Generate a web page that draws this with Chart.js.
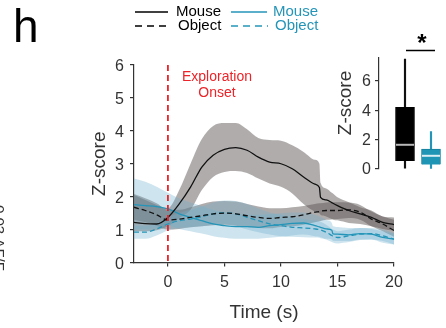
<!DOCTYPE html>
<html><head><meta charset="utf-8">
<script src="https://cdn.jsdelivr.net/npm/chart.js@4/dist/chart.umd.min.js"></script>
<style>
html,body{margin:0;padding:0;background:#fff;}
#wrap{position:relative;width:446px;height:328px;overflow:hidden;background:#fff;}
canvas{position:absolute;left:0;top:0;}
</style></head><body>
<div id="wrap"><canvas id="main" width="446" height="328"></canvas><canvas id="inset" width="446" height="328"></canvas></div>
<script>
// ---------- data ----------
const time = [-3,-2,-1,0,1,2,3,4,5,6,7,8,9,10,11,12,13,13.4,13.5,14,14.5,14.6,15,16,17,18,19,20];

const blackMouseMean  = [1.22,1.18,1.17,1.37,1.78,2.29,2.90,3.26,3.44,3.49,3.41,3.20,3.05,3.00,2.85,2.60,2.38,2.28,1.98,1.90,1.82,1.80,1.73,1.58,1.48,1.37,1.22,1.15];
const blackMouseUpper = [2.05,1.90,1.75,1.65,2.20,3.00,3.75,4.15,4.24,4.24,4.05,3.78,3.72,3.70,3.56,3.36,3.12,3.00,2.42,2.25,2.12,2.10,1.98,1.83,1.68,1.58,1.40,1.37];
const blackMouseLower = [0.95,0.95,0.98,1.10,1.35,1.60,2.20,2.60,2.75,2.78,2.72,2.55,2.40,2.30,2.10,1.78,1.55,1.50,1.45,1.40,1.32,1.30,1.28,1.20,1.17,1.10,1.02,0.97];

const blackObjectMean  = [1.68,1.58,1.45,1.29,1.32,1.37,1.42,1.48,1.50,1.48,1.42,1.37,1.34,1.37,1.39,1.45,1.53,1.55,1.56,1.58,1.58,1.58,1.58,1.60,1.53,1.32,1.17,0.97];
const blackObjectUpper = [2.08,1.95,1.80,1.60,1.60,1.68,1.78,1.85,1.87,1.85,1.78,1.70,1.65,1.65,1.68,1.72,1.78,1.80,1.80,1.82,1.83,1.83,1.83,1.82,1.75,1.55,1.40,1.30];
const blackObjectLower = [1.30,1.22,1.12,1.00,1.02,1.07,1.10,1.13,1.15,1.12,1.08,1.05,1.04,1.08,1.10,1.15,1.22,1.25,1.26,1.30,1.31,1.32,1.32,1.35,1.30,1.10,0.95,0.78];

const blueMouseMean  = [1.76,1.73,1.70,1.63,1.48,1.37,1.27,1.17,1.12,1.09,1.09,1.07,1.12,1.15,1.19,1.20,1.12,1.08,1.07,1.02,0.98,0.87,0.86,0.84,0.88,0.86,0.76,0.71];
const blueMouseUpper = [2.55,2.45,2.30,2.12,1.95,1.82,1.72,1.60,1.52,1.48,1.46,1.45,1.47,1.50,1.52,1.52,1.45,1.40,1.38,1.30,1.20,1.10,1.08,1.05,1.05,1.02,0.95,0.88];
const blueMouseLower = [1.00,1.00,1.05,1.12,1.02,0.95,0.88,0.80,0.75,0.72,0.72,0.72,0.75,0.78,0.82,0.85,0.80,0.78,0.77,0.72,0.70,0.66,0.65,0.65,0.70,0.70,0.60,0.55];

const blueObjectMean  = [0.92,0.92,1.02,1.17,1.27,1.32,1.39,1.48,1.51,1.48,1.37,1.27,1.17,1.12,1.07,1.05,1.02,1.00,0.99,0.92,0.82,0.80,0.76,0.81,0.86,0.88,0.81,0.71];
const blueObjectUpper = [1.12,1.12,1.20,1.38,1.50,1.60,1.70,1.82,1.88,1.87,1.78,1.65,1.52,1.45,1.38,1.32,1.28,1.25,1.24,1.15,1.02,1.00,0.95,1.00,1.05,1.05,1.00,0.90];
const blueObjectLower = [0.72,0.72,0.82,0.97,1.05,1.07,1.10,1.15,1.17,1.12,1.00,0.92,0.85,0.80,0.78,0.77,0.76,0.75,0.74,0.70,0.62,0.61,0.58,0.62,0.68,0.70,0.65,0.55];

const xTicks = [0,5,10,15,20];
const yTicks = [0,1,2,3,4,5,6];

// inset box plot
const boxGroups   = [1,2];
const whiskerLow  = [0.05,0.0];
const boxQ1       = [0.55,0.30];
const boxMedian   = [1.65,0.90];
const boxQ3       = [4.20,1.35];
const whiskerHigh = [7.50,2.55];
const insetTicks  = [0,2,4,6];

// ---------- styles ----------
const FONT = "'Liberation Sans', Arial, Helvetica, sans-serif";
const AX = '#333333';
const BLUE = '#2495b8';
const GRAY_BAND = 'rgba(90,82,82,0.48)';
const BLUE_BAND = 'rgba(110,175,205,0.34)';

const pts = arr => time.map((t,i)=>({x:t,y:arr[i]}));
function band(upper, lower, color, order){
  return [
    {data:pts(upper), borderWidth:0, pointRadius:0, fill:false, order, cubicInterpolationMode:'monotone'},
    {data:pts(lower), borderWidth:0, pointRadius:0, fill:'-1', backgroundColor:color, order, cubicInterpolationMode:'monotone'}
  ];
}
function line(arr, color, dash){
  return {data:pts(arr), borderColor:color, borderWidth:1.3, borderDash:dash, pointRadius:0, fill:false, order:0, cubicInterpolationMode:'monotone'};
}

const decor = {
  id:'decor',
  afterDatasetsDraw(chart){
    const ctx = chart.ctx, x = chart.scales.x;
    ctx.save();
    // onset line
    const x0 = x.getPixelForValue(0);
    ctx.strokeStyle = '#ec2328'; ctx.lineWidth = 1.8; ctx.setLineDash([6,4]);
    ctx.beginPath(); ctx.moveTo(x0, chart.chartArea.top); ctx.lineTo(x0, chart.chartArea.bottom); ctx.stroke();
    ctx.setLineDash([]);
    ctx.fillStyle = '#ec2328'; ctx.font = '14px ' + FONT; ctx.textAlign = 'center'; ctx.textBaseline = 'middle';
    ctx.fillText('Exploration', 217, 77);
    ctx.fillText('Onset', 217, 93);
    // panel letter
    ctx.fillStyle = '#000'; ctx.font = '46px ' + FONT; ctx.textAlign = 'left'; ctx.textBaseline = 'alphabetic';
    ctx.fillText('h', 13, 42);
    // legend
    ctx.lineWidth = 1.6;
    const leg = [
      {x1:135,x2:168,y:12,c:'#000',d:[],t:'Mouse',tx:176},
      {x1:135,x2:170,y:26,c:'#000',d:[7,5],t:'Object',tx:178},
      {x1:231,x2:267,y:12,c:BLUE,d:[],t:'Mouse',tx:273},
      {x1:231,x2:268,y:26,c:BLUE,d:[7,5],t:'Object',tx:275}
    ];
    ctx.font = '15px ' + FONT; ctx.textBaseline = 'middle';
    leg.forEach(l=>{
      ctx.strokeStyle = l.c; ctx.setLineDash(l.d);
      ctx.beginPath(); ctx.moveTo(l.x1,l.y); ctx.lineTo(l.x2,l.y); ctx.stroke();
      ctx.fillStyle = l.c; ctx.fillText(l.t, l.tx, l.y);
    });
    ctx.setLineDash([]);
    // clipped side label
    ctx.translate(-6, 205); ctx.rotate(Math.PI/2);
    ctx.fillStyle = AX; ctx.font = '15px ' + FONT; ctx.textAlign='left'; ctx.textBaseline='alphabetic';
    ctx.fillText('0.03 ΔF/F', 0, 0);
    ctx.restore();
  }
};

new Chart(document.getElementById('main'), {
  type:'line',
  data:{datasets:[
    ...band(blackMouseUpper, blackMouseLower, GRAY_BAND, 3),
    ...band(blackObjectUpper, blackObjectLower, GRAY_BAND, 3),
    ...band(blueMouseUpper, blueMouseLower, BLUE_BAND, 2),
    ...band(blueObjectUpper, blueObjectLower, BLUE_BAND, 2),
    line(blackMouseMean, '#111', []),
    line(blackObjectMean, '#111', [5,3]),
    line(blueMouseMean, BLUE, []),
    line(blueObjectMean, BLUE, [5,3])
  ]},
  options:{
    responsive:false, animation:false, devicePixelRatio:1,
    layout:{padding:{left:0,top:65,right:52,bottom:0}},
    plugins:{legend:{display:false}, tooltip:{enabled:false}},
    scales:{
      x:{type:'linear', min:-3, max:20,
        afterBuildTicks:s=>{s.ticks = xTicks.map(v=>({value:v}));},
        afterFit:s=>{s.height = 65.5;},
        grid:{drawOnChartArea:false, drawTicks:true, tickLength:4, color:AX, lineWidth:1.2},
        border:{display:true, color:AX, width:1.2},
        ticks:{color:AX, font:{family:FONT, size:16}, padding:6, maxRotation:0, autoSkip:false},
        title:{display:true, text:'Time (s)', color:AX, font:{family:FONT, size:19}, padding:{top:0,bottom:4}}
      },
      y:{type:'linear', min:0, max:6,
        afterBuildTicks:s=>{s.ticks = yTicks.map(v=>({value:v}));},
        afterFit:s=>{s.width = 134;},
        grid:{drawOnChartArea:false, drawTicks:true, tickLength:4, color:AX, lineWidth:1.2},
        border:{display:true, color:AX, width:1.2},
        ticks:{color:AX, font:{family:FONT, size:16}, padding:6, labelOffset:2, autoSkip:false},
        title:{display:true, text:'Z-score', color:AX, font:{family:FONT, size:19}, padding:{top:88,bottom:0}}
      }
    }
  },
  plugins:[decor]
});

// ---------- inset ----------
const insetDecor = {
  id:'insetDecor',
  afterDatasetsDraw(chart){
    const ctx = chart.ctx, x = chart.scales.x, y = chart.scales.y;
    ctx.save();
    const medColors = ['#b8b8b8','#d9eef5'];
    ctx.lineWidth = 2;
    boxGroups.forEach((g,i)=>{
      const cx = x.getPixelForValue(g), py = y.getPixelForValue(boxMedian[i]);
      ctx.strokeStyle = medColors[i];
      ctx.beginPath(); ctx.moveTo(cx-9, py); ctx.lineTo(cx+9, py); ctx.stroke();
    });
    // significance bar
    ctx.strokeStyle = '#000'; ctx.lineWidth = 1.5;
    ctx.beginPath(); ctx.moveTo(406, 50.5); ctx.lineTo(435, 50.5); ctx.stroke();
    ctx.fillStyle = '#000'; ctx.font = 'bold 24px ' + FONT; ctx.textAlign='center'; ctx.textBaseline='alphabetic';
    ctx.fillText('*', 422, 51);
    // y label
    ctx.translate(346, 103); ctx.rotate(-Math.PI/2);
    ctx.fillStyle = AX; ctx.font = '19px ' + FONT; ctx.textBaseline='middle';
    ctx.fillText('Z-score', 0, 0);
    ctx.restore();
  }
};

new Chart(document.getElementById('inset'), {
  type:'bar',
  data:{datasets:[
    {data:boxGroups.map((g,i)=>({x:g, y:[boxQ1[i], boxQ3[i]]})),
     backgroundColor:['#000000','#1e95b5'], borderColor:['#000000','#15809e'], borderWidth:1,
     barThickness:19, grouped:false, order:1},
    {data:boxGroups.map((g,i)=>({x:g, y:[whiskerLow[i], whiskerHigh[i]]})),
     backgroundColor:['#111111', BLUE], barThickness:1.5, grouped:false, order:2}
  ]},
  options:{
    responsive:false, animation:false, devicePixelRatio:1,
    layout:{padding:{left:300,top:57.5,right:2,bottom:159}},
    plugins:{legend:{display:false}, tooltip:{enabled:false}},
    scales:{
      x:{type:'linear', min:0, max:2.5, display:false, offset:false},
      y:{type:'linear', min:0, max:7.6,
        afterBuildTicks:s=>{s.ticks = insetTicks.map(v=>({value:v}));},
        afterFit:s=>{s.width = 79;},
        grid:{drawOnChartArea:false, drawTicks:true, tickLength:4, color:AX, lineWidth:1.2},
        border:{display:true, color:AX, width:1.2},
        ticks:{color:AX, font:{family:FONT, size:16}, padding:4, labelOffset:1, autoSkip:false}
      }
    }
  },
  plugins:[insetDecor]
});
</script>
</body></html>
